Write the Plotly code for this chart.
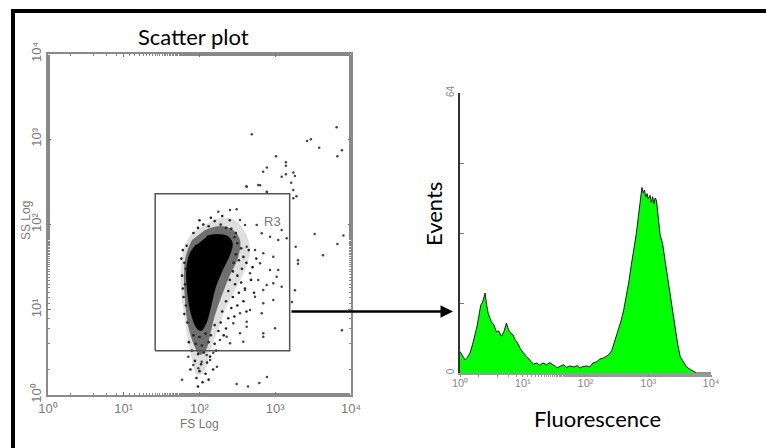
import numpy as np
import plotly.graph_objects as go

W, H = 766, 448

# ---------------- Scatter plot (log10 of FS / SS channel values) ----------------
# solid high-density core of the population
core_fs = [2.095, 2.227, 2.359, 2.425, 2.380, 2.293, 2.205, 2.139, 2.086, 2.016,
           1.963, 1.897, 1.852, 1.839, 1.875, 1.963]
core_ss = [1.857, 1.877, 1.857, 1.779, 1.622, 1.466, 1.270, 1.035, 0.860, 0.762,
           0.801, 0.958, 1.193, 1.466, 1.642, 1.760]

# near-saturated halo just around the core
halo_fs = [2.073, 2.271, 2.442, 2.535, 2.508, 2.403, 2.297, 2.205, 2.139, 2.086,
           2.007, 1.927, 1.848, 1.809, 1.795, 1.822, 1.901]
halo_ss = [1.935, 1.982, 1.935, 1.818, 1.607, 1.408, 1.173, 0.938, 0.704, 0.528,
           0.469, 0.586, 0.821, 1.114, 1.408, 1.642, 1.818]

# dense fringe
inner_fs = [2.007, 2.271, 2.469, 2.601, 2.667, 2.601, 2.469, 2.337, 2.244, 2.165,
            2.112, 2.059, 1.967, 1.901, 1.848, 1.795, 1.756, 1.756, 1.809, 1.901]
inner_ss = [1.959, 2.076, 2.053, 1.912, 1.701, 1.466, 1.232, 0.997, 0.762, 0.586,
            0.411, 0.270, 0.235, 0.411, 0.645, 0.938, 1.232, 1.525, 1.760, 1.900]

# events scattered around the population
fringe_fs = [1.78, 1.80, 1.77, 1.81, 1.79, 1.82, 1.80, 1.84, 1.76, 1.83, 1.78, 1.82,
             1.92, 1.98, 2.05, 2.12, 2.20, 2.28, 2.35, 2.42, 2.48, 2.15, 2.30, 2.00, 2.40,
             2.46, 2.50, 2.55, 2.48, 2.52, 2.45, 2.58, 2.62, 2.44, 2.50, 2.56, 2.40,
             2.47, 2.55, 2.38, 2.44, 2.52, 2.60, 2.35, 2.42, 2.50, 2.30, 2.38, 2.46,
             2.28, 2.35, 2.65, 2.70, 2.68, 2.58, 2.62, 2.72, 2.75,
             1.92, 2.00, 2.08, 2.15, 1.95, 2.03, 2.12, 2.20, 1.90, 1.98, 2.06, 2.14,
             1.94, 2.02, 2.10, 2.00, 2.08, 1.96, 2.04, 1.88, 2.18, 2.12, 1.98, 2.22,
             1.86, 2.25, 2.20, 2.32]
fringe_ss = [1.70, 1.55, 1.40, 1.30, 1.15, 1.05, 0.95, 0.85, 1.60, 1.75, 1.25, 1.48,
             1.90, 1.96, 2.00, 1.98, 2.04, 2.00, 1.96, 1.95, 1.90, 2.08, 2.10, 2.05, 2.05,
             1.85, 1.78, 1.72, 1.65, 1.58, 1.55, 1.62, 1.55, 1.45, 1.40, 1.48, 1.35,
             1.30, 1.32, 1.22, 1.15, 1.20, 1.25, 1.10, 1.02, 1.05, 0.98, 0.90, 0.92,
             0.85, 0.78, 1.70, 1.50, 1.35, 1.10, 0.98, 1.20, 1.60,
             0.70, 0.68, 0.72, 0.70, 0.60, 0.58, 0.62, 0.60, 0.52, 0.48, 0.50, 0.45,
             0.40, 0.36, 0.38, 0.28, 0.25, 0.20, 0.15, 0.30, 0.30, 0.18, 0.10, 0.52,
             0.62, 0.75, 0.82, 0.70]

# isolated events across the plot
event_fs = [2.69, 3.42, 3.47, 3.58, 3.81, 3.88, 3.82, 3.01, 3.14, 3.14, 3.24, 3.26,
            3.21, 3.14, 2.89, 2.84, 2.62, 2.80, 2.89, 3.28, 3.52, 3.90, 3.82, 3.63,
            3.27, 3.30, 3.30, 3.26, 3.22, 3.88, 2.89, 2.64, 2.79, 2.49, 2.23, 2.14,
            1.77,
            2.535, 2.601, 2.755, 2.821, 2.931, 3.040, 3.085, 3.151, 2.623, 2.733,
            2.842, 2.974, 2.799, 2.931, 3.040, 2.667, 2.776, 2.887, 3.019, 3.085,
            2.601, 2.733, 2.842, 2.974, 2.821, 2.667, 2.535, 2.446, 2.623, 2.842,
            2.403, 2.578, 2.359, 2.271, 1.852, 1.918, 2.029, 2.095, 1.984, 2.182,
            2.248, 2.403, 2.491, 2.623, 2.887, 2.776, 3.085, 3.238, 3.238,
            2.997, 2.842, 2.623, 2.842, 2.974, 2.535]
event_ss = [3.06, 2.98, 3.00, 2.90, 3.14, 2.87, 2.80, 2.80, 2.73, 2.69, 2.61, 2.57,
            2.49, 2.59, 2.67, 2.62, 2.45, 2.46, 2.38, 2.33, 1.89, 1.87, 1.77, 1.64,
            1.74, 1.58, 1.54, 1.23, 1.09, 0.76, 0.21, 0.10, 0.14, 0.13, 0.33, 0.41,
            0.18,
            2.053, 1.994, 1.994, 1.897, 1.857, 1.818, 1.935, 1.838, 1.740, 1.701,
            1.662, 1.622, 1.545, 1.466, 1.466, 1.428, 1.349, 1.290, 1.388, 1.270,
            1.232, 1.153, 1.076, 1.114, 0.958, 0.997, 0.958, 0.841, 0.801, 0.724,
            0.606, 0.625, 0.684, 0.645, 0.449, 0.352, 0.391, 0.469, 0.313, 0.496,
            2.150, 2.170, 2.178, 2.443, 2.385, 2.463, 2.561, 2.405, 2.307,
            0.782, 0.684, 0.860, 1.232, 1.310, 0.724]

# R3 gate limits (FS, SS)
gate_fs = [26, 1550]
gate_ss = [3.3, 230]

# ---------------- Fluorescence histogram ----------------
fluor_log = [0.00, 0.04, 0.08, 0.12, 0.16, 0.20, 0.24, 0.27, 0.30, 0.33, 0.36, 0.38,
             0.40, 0.42, 0.45, 0.48, 0.50, 0.54, 0.58, 0.62, 0.66, 0.70, 0.74, 0.77,
             0.80, 0.84, 0.88, 0.92, 0.96, 1.01, 1.06, 1.11, 1.17, 1.22, 1.27, 1.32,
             1.38, 1.43, 1.50, 1.55, 1.59, 1.65, 1.70, 1.75, 1.82, 1.87, 1.91, 1.96,
             2.02, 2.07, 2.12, 2.18, 2.23, 2.28, 2.33, 2.38, 2.42, 2.46, 2.49, 2.53,
             2.57, 2.61, 2.65, 2.69, 2.73, 2.77, 2.81, 2.84, 2.87, 2.89, 2.90, 2.92,
             2.94, 2.96, 2.98, 3.00, 3.03, 3.05, 3.07, 3.09, 3.11, 3.13, 3.14, 3.16,
             3.19, 3.23, 3.27, 3.31, 3.35, 3.39, 3.43, 3.47, 3.51, 3.56, 3.61, 3.66,
             3.72, 3.77, 3.85, 4.00]
events = [4.9, 4.0, 3.0, 3.6, 4.6, 6.5, 8.8, 10.6, 13.0, 15.5, 16.2, 17.5,
          18.3, 16.0, 13.6, 12.5, 11.7, 11.0, 9.4, 9.6, 8.3, 9.5, 11.4, 10.0,
          9.2, 8.8, 7.6, 6.8, 5.6, 4.6, 3.7, 3.0, 2.0, 2.3, 1.8, 2.3,
          1.9, 2.4, 1.6, 1.2, 1.5, 1.9, 1.3, 1.6, 1.4, 1.7, 1.1, 1.5,
          1.6, 1.4, 2.3, 2.6, 3.2, 3.4, 3.8, 4.3, 5.2, 7.0, 8.7, 10.5,
          12.1, 14.5, 17.4, 20.8, 24.7, 28.0, 31.9, 35.5, 38.5, 41.0, 42.4, 41.2,
          41.8, 40.2, 41.0, 39.8, 40.6, 38.9, 40.3, 38.6, 40.0, 39.5, 37.5, 35.5,
          31.5, 29.5, 25.5, 21.5, 18.0, 14.0, 10.5, 6.5, 3.7, 2.4, 1.4, 0.9,
          0.3, 0.0, 0.0, 0.0]

decade_vals = [1, 10, 100, 1000, 10000]
decade_text = ["10⁰", "10¹", "10²", "10³", "10⁴"]
hist_y_ticks = [0, 16, 32, 48, 64]
hist_y_text = ["0", "", "", "", "64"]


def pow10(v):
    return np.power(10.0, np.asarray(v, dtype=float))


def px(x):
    return x / W


def py(y):
    return 1 - y / H


tick_font = dict(family="Liberation Sans, Arial", size=13, color="#7a7a7a")
label_font = dict(family="Lato, Open Sans", size=22, color="#000000")
small_font = dict(family="Liberation Sans, Arial", size=12, color="#777777")

fig = go.Figure()


def density_layer(fs, ss, fill, line_w=0):
    fig.add_trace(go.Scatter(
        x=pow10(fs), y=pow10(ss), mode="lines", fill="toself", fillcolor=fill,
        line=dict(color=fill, width=line_w, shape="spline", smoothing=1.0),
        hoverinfo="skip", xaxis="x", yaxis="y"))


# density shading from sparse to solid
density_layer(inner_fs, inner_ss, "rgba(0,0,0,0.13)")
density_layer(halo_fs, halo_ss, "rgba(0,0,0,0.5)")
density_layer(core_fs, core_ss, "rgba(0,0,0,1)", line_w=2)

# events
fig.add_trace(go.Scatter(
    x=pow10(fringe_fs), y=pow10(fringe_ss), mode="markers",
    marker=dict(size=2.6, color="#222222"), hoverinfo="skip",
    xaxis="x", yaxis="y"))
fig.add_trace(go.Scatter(
    x=pow10(event_fs), y=pow10(event_ss), mode="markers",
    marker=dict(size=2.5, color="#444444"),
    xaxis="x", yaxis="y"))
# R3 gate
fig.add_trace(go.Scatter(
    x=[gate_fs[0], gate_fs[1], gate_fs[1], gate_fs[0], gate_fs[0]],
    y=[gate_ss[0], gate_ss[0], gate_ss[1], gate_ss[1], gate_ss[0]],
    mode="lines", line=dict(color="#555555", width=1.5),
    xaxis="x", yaxis="y"))

# histogram
fig.add_trace(go.Scatter(
    x=pow10(fluor_log), y=events, mode="lines", fill="tozeroy",
    fillcolor="#00ff00", line=dict(color="#1a1a1a", width=1),
    xaxis="x2", yaxis="y2"))

scatter_x = dict(
    domain=[px(48), px(351)], type="log", range=[0, 4], automargin=False,
    tickvals=decade_vals, ticktext=decade_text, tickfont=tick_font,
    ticks="inside", ticklen=3, tickcolor="#777777",
    minor=dict(ticks="inside", ticklen=2, tickcolor="#888888"),
    showline=True, linecolor="#8a8a8a", linewidth=2, mirror="ticks",
    showgrid=False, zeroline=False, anchor="y")
scatter_y = dict(
    domain=[py(395), py(54)], type="log", range=[0, 4], automargin=False,
    tickvals=decade_vals, ticktext=decade_text, tickfont=tick_font,
    tickangle=-90, ticks="inside", ticklen=3, tickcolor="#777777",
    minor=dict(ticks="inside", ticklen=2, tickcolor="#888888"),
    showline=True, linecolor="#8a8a8a", linewidth=2, mirror="ticks",
    showgrid=False, zeroline=False, anchor="x")
hist_x = dict(
    domain=[px(460), px(711)], type="log", range=[0, 4], automargin=False,
    tickvals=decade_vals, ticktext=decade_text,
    tickfont=dict(family="Liberation Sans, Arial", size=11, color="#888888"),
    ticks="outside", ticklen=2, tickcolor="#888888", ticklabelstandoff=-3,
    minor=dict(ticks="outside", ticklen=2, tickcolor="#999999"),
    showline=True, linecolor="#999999", linewidth=1.5,
    showgrid=False, zeroline=False, anchor="y2")
hist_y = dict(
    domain=[py(373), py(93)], range=[0, 64], automargin=False,
    tickvals=hist_y_ticks, ticktext=hist_y_text,
    tickfont=dict(family="Liberation Sans, Arial", size=10, color="#888888"),
    tickangle=-90, ticks="inside", ticklen=4, tickcolor="#777777",
    showline=True, linecolor="#333333", linewidth=1.5,
    showgrid=False, zeroline=False, anchor="x2")


def label(text, x, y, font, angle=0):
    return dict(text=text, x=px(x), y=py(y), xref="paper", yref="paper",
                xanchor="center", yanchor="middle", showarrow=False,
                textangle=angle, font=font)


annotations = [
    label("Scatter plot", 193.5, 36, label_font),
    label("SS Log", 26, 221, small_font, -90),
    label("FS Log", 199, 424, small_font),
    dict(text="R3", x=2.97, y=2.03, xref="x", yref="y", showarrow=False,
         xanchor="center", yanchor="middle",
         font=dict(family="Liberation Sans, Arial", size=13, color="#777777")),
    label("Events", 433, 214, label_font, -90),
    label("Fluorescence", 597.5, 418, label_font),
    # gate -> histogram arrow
    dict(text="", x=px(453), y=py(311.5), xref="paper", yref="paper",
         ax=-163, ay=0, axref="pixel", ayref="pixel", showarrow=True,
         arrowhead=2, arrowsize=1, arrowwidth=2.5, arrowcolor="#000000"),
]

shapes = [
    dict(type="rect", xref="paper", yref="paper", x0=px(13), x1=1.05,
         y0=-0.05, y1=py(11), line=dict(color="#000000", width=4),
         fillcolor="rgba(0,0,0,0)"),
]

fig.update_layout(
    width=W, height=H, margin=dict(l=0, r=0, t=0, b=0, autoexpand=False),
    paper_bgcolor="#ffffff", plot_bgcolor="#ffffff", showlegend=False,
    xaxis=scatter_x, yaxis=scatter_y, xaxis2=hist_x, yaxis2=hist_y,
    annotations=annotations, shapes=shapes)

fig.write_html("out.html", config={"displayModeBar": False})
